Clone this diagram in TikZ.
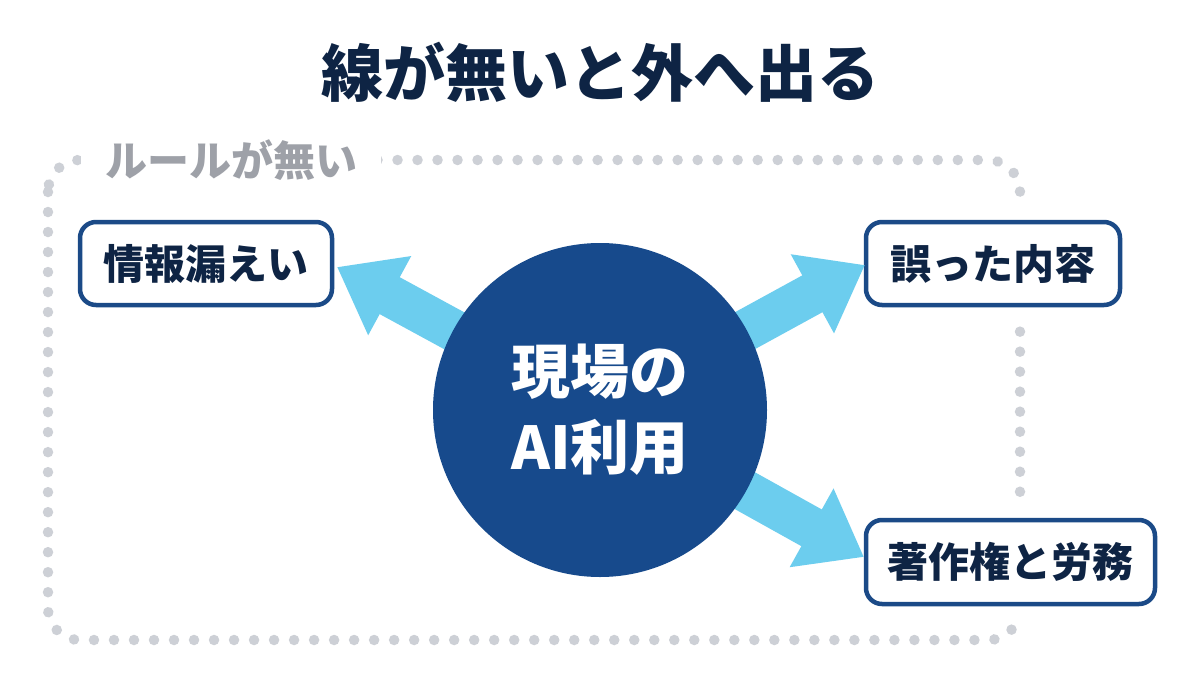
\documentclass[tikz,border=0pt]{standalone}
\usepackage{fontspec}
\setmainfont{Noto Sans CJK JP}[BoldFont={Noto Sans CJK JP Black}]
\usetikzlibrary{arrows.meta}
\definecolor{navytext}{HTML}{0E2444}
\definecolor{boxborder}{HTML}{1B4A87}
\definecolor{circfill}{HTML}{174A8C}
\definecolor{arrowblue}{HTML}{6CCDEE}
\definecolor{dotgray}{HTML}{CDD0D6}
\definecolor{labelgray}{HTML}{9EA1A8}
\tikzset{
  riskbox/.style={draw=boxborder, line width=4.5pt, rounded corners=16pt, fill=white,
    preaction={draw=white, line width=34pt, rounded corners=16pt},
    text=navytext, font=\bfseries\fontsize{41}{48}\selectfont, align=center, inner sep=0pt},
  bigarrow/.style={draw=arrowblue, line width=42pt, -{Triangle[length=60pt,width=86pt]}},
  dotline/.style={draw=dotgray, line width=10.5pt, line cap=round, dash pattern=on 0.01pt off 20pt},
}
\begin{document}
\begin{tikzpicture}[x=1pt,y=-1pt]
\useasboundingbox (0,0) rectangle (1200,691);
\fill[white] (0,0) rectangle (1200,691);
% dotted frame
\draw[dotline, rounded corners=32pt] (48,160) rectangle (1020,640);
% title
\node[text=navytext, font=\bfseries\fontsize{62}{70}\selectfont] (title) at (600,72) {線が無いと外へ出る};
% frame label
\node[fill=white, inner xsep=24pt, inner ysep=6pt, text=labelgray, font=\bfseries\fontsize{42}{48}\selectfont] (frame) at (231,160) {ルールが無い};
% center coordinate
\coordinate (c) at (600,410);
% boxes
\node[riskbox, minimum width=252pt, minimum height=83pt] (leak) at (206,263.5) {情報漏えい};
\node[riskbox, minimum width=254pt, minimum height=83pt] (wrong) at (993,263.5) {誤った内容};
\node[riskbox, minimum width=289pt, minimum height=84pt] (copy) at (1010.5,562) {著作権と労務};
% arrows
\coordinate (t1) at (337,267);
\coordinate (t2) at (865,265);
\coordinate (t3) at (864,557);
\draw[bigarrow] (c) -- (t1);
\draw[bigarrow] (c) -- (t2);
\draw[bigarrow] (c) -- (t3);
% circle
\node[circle, fill=circfill, minimum size=334pt, inner sep=0pt, text=white, align=center,
  font=\bfseries\fontsize{59}{76}\selectfont] (ai) at (c) {現場の\\AI利用};
\end{tikzpicture}
\end{document}
